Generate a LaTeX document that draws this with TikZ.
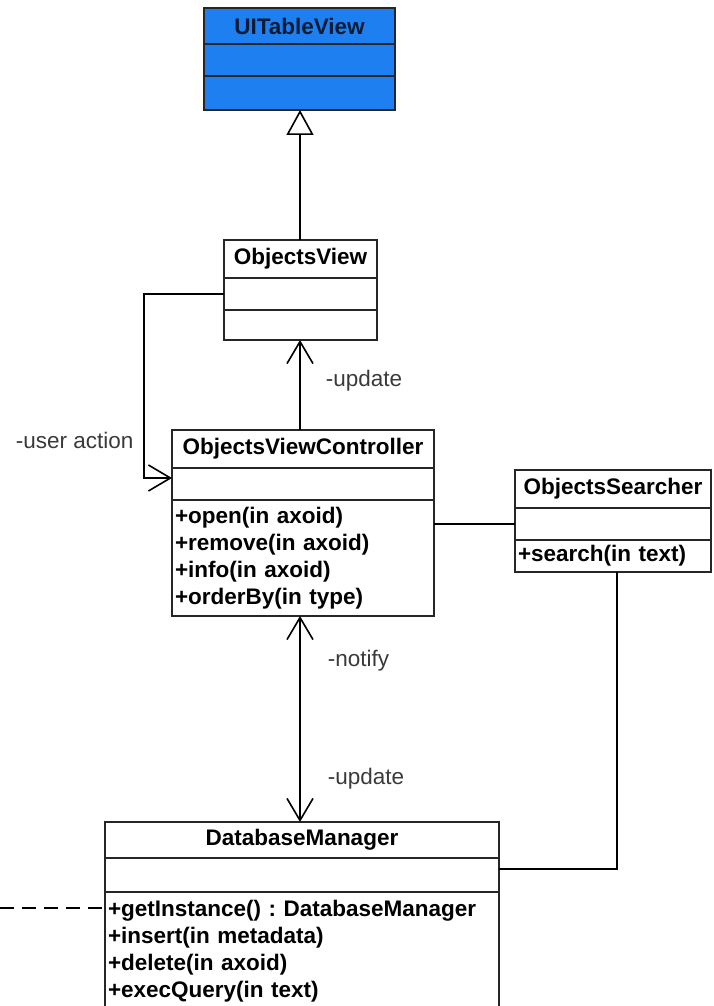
\documentclass[tikz,border=0pt]{standalone}
\usepackage{fontspec}
\setmainfont{Liberation Sans}
\usetikzlibrary{positioning,arrows.meta}
\definecolor{tableblue}{HTML}{1E80F0}
\definecolor{titlenavy}{HTML}{0B1B33}
\definecolor{labelgray}{HTML}{3A3A3A}
\frenchspacing

\begin{document}
\begin{tikzpicture}[x=1pt, y=-1pt, line width=1.6pt,
  part/.style={draw=black!85, inner sep=0pt, outer sep=0pt},
  ctitle/.style={part, font=\fontsize{22.5}{27}\selectfont\bfseries},
  cops/.style={part, inner xsep=3pt, align=left,
    font=\fontsize{22.5}{27}\selectfont\bfseries},
  lbl/.style={anchor=west, text=labelgray, inner sep=0pt,
    font=\fontsize{22.5}{27}\selectfont},
  barb/.tip={Straight Barb[length=22pt, width=26pt]},
  inherit/.style={-{Triangle[open, length=25pt, width=27pt]}}]
  \useasboundingbox (0,0) rectangle (713,1006);

  % UITableView
  \node[ctitle, fill=tableblue, text=titlenavy, minimum width=191pt, minimum height=36pt] (uitv) at (299.5,26) {UITableView};
  \node[part, fill=tableblue, minimum width=191pt, minimum height=32pt, below=0pt of uitv] (uitv attr) {};
  \node[part, fill=tableblue, minimum width=191pt, minimum height=34pt, below=0pt of uitv attr] (uitv ops) {};

  % ObjectsView
  \node[ctitle, minimum width=153pt, minimum height=38pt] (ov) at (300.5,259) {ObjectsView};
  \node[part, minimum width=153pt, minimum height=32pt, below=0pt of ov] (ov attr) {};
  \node[part, minimum width=153pt, minimum height=30pt, below=0pt of ov attr] (ov ops) {};

  % ObjectsViewController
  \node[ctitle, minimum width=262pt, minimum height=38pt] (ovc) at (303,449) {ObjectsViewController};
  \node[part, minimum width=262pt, minimum height=32pt, below=0pt of ovc] (ovc attr) {};
  \node[cops, text width=256pt, minimum height=116pt, below=0pt of ovc attr] (ovc ops)
    {+open(in axoid)\\+remove(in axoid)\\+info(in axoid)\\+orderBy(in type)};

  % ObjectsSearcher
  \node[ctitle, minimum width=196pt, minimum height=38pt] (os) at (613,489) {ObjectsSearcher};
  \node[part, minimum width=196pt, minimum height=32pt, below=0pt of os] (os attr) {};
  \node[cops, text width=190pt, minimum height=32pt, below=0pt of os attr] (os ops) {+search(in text)};

  % DatabaseManager
  \node[ctitle, minimum width=394pt, minimum height=36pt] (dm) at (302,840) {DatabaseManager};
  \node[part, minimum width=394pt, minimum height=34pt, below=0pt of dm] (dm attr) {};
  \node[cops, text width=388pt, minimum height=118pt, below=0pt of dm attr] (dm ops)
    {+getInstance() : DatabaseManager\\+insert(in metadata)\\+delete(in axoid)\\+execQuery(in text)};

  % connectors
  \draw[inherit] (ov.north -| 300,0) -- (uitv ops.south -| 300,0);
  \draw[-barb] (ovc.north -| 300,0) -- (ov ops.south -| 300,0);
  \draw[-barb] (ov attr.west) -- ++(-80,0) |- ([yshift=6pt]ovc attr.west);
  \draw (ovc ops.east |- os attr.west) -- (os attr.west);
  \draw (os ops.south -| 617,0) |- ([yshift=6pt]dm attr.east);
  \draw[barb-barb] (ovc ops.south -| 300,0) -- (dm.north -| 300,0);
  \coordinate (ext) at (0,908);
  \draw[dash pattern=on 14pt off 8pt] (ext) -- (ext -| dm ops.west);

  % labels
  \node[lbl] (lbl user) at (15,440) {-user action};
  \node[lbl] (lbl upd1) at (325,381) {-update};
  \node[lbl] (lbl notify) at (327,661) {-notify};
  \node[lbl] (lbl upd2) at (327,779) {-update};
\end{tikzpicture}
\end{document}
